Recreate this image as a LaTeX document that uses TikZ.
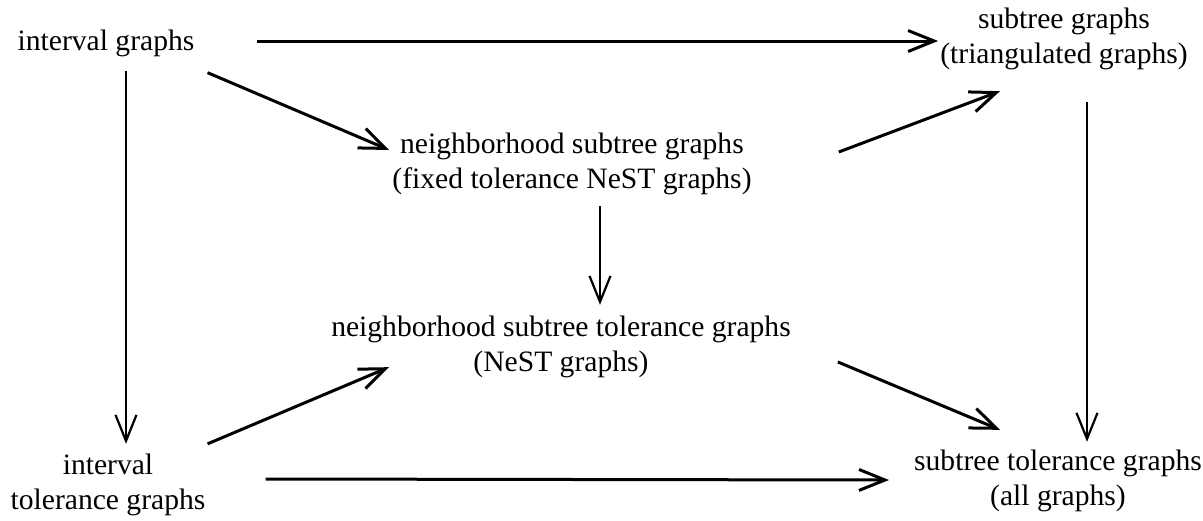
\documentclass[tikz,border=0pt]{standalone}
\usepackage{fontspec}
\setmainfont{Liberation Serif}
\usetikzlibrary{arrows.meta}
\tikzset{
  lbl/.style={inner sep=0pt, align=center, font=\fontsize{29.6}{35}\selectfont},
  arr/.style={line width=3pt, -{Straight Barb[length=26pt,width=21pt]}},
  varr/.style={arr, line width=2.2pt}
}
\begin{document}
\begin{tikzpicture}[x=1pt,y=-1pt]
\useasboundingbox (0,0) rectangle (1203,520);
\node[lbl] (ig) at (106,43) {interval graphs};
\node[lbl] (sg) at (1064,39) {subtree graphs\\(triangulated graphs)};
\node[lbl] (nsg) at (572,164) {neighborhood subtree graphs\\(fixed tolerance NeST graphs)};
\node[lbl] (nstg) at (561,347) {neighborhood subtree tolerance graphs\\(NeST graphs)};
\node[lbl] (itg) at (108,485) {interval\\tolerance graphs};
\node[lbl] (stg) at (1058,481) {subtree tolerance graphs\\(all graphs)};
\draw[arr] ([xshift=62pt,yshift=2pt]ig.east) -- ([xshift=-2pt,yshift=-2pt]sg.west);
\draw[arr] ([xshift=13pt,yshift=-16pt]ig.south east) -- ([xshift=-3pt,yshift=14pt]nsg.west);
\draw[varr] ([xshift=20pt,yshift=-14pt]ig.south) -- ([xshift=18pt,yshift=10pt]itg.north);
\draw[varr] ([xshift=23pt,yshift=-32pt]sg.south) -- ([xshift=29pt,yshift=8pt]stg.north);
\draw[arr] ([xshift=87pt,yshift=12pt]nsg.east) -- ([xshift=-64pt,yshift=-21pt]sg.south);
\draw[varr] ([xshift=28pt,yshift=-11pt]nsg.south) -- ([xshift=39pt,yshift=11pt]nstg.north);
\draw[arr] ([xshift=47pt,yshift=-15pt]nstg.east) -- ([xshift=-58pt,yshift=20pt]stg.north);
\draw[arr] ([xshift=2pt,yshift=10pt]itg.north east) -- ([xshift=58pt,yshift=11pt]nstg.south west);
\draw[arr] ([xshift=60pt,yshift=6pt]itg.east) -- ([xshift=-25pt,yshift=1pt]stg.west);
\end{tikzpicture}
\end{document}
